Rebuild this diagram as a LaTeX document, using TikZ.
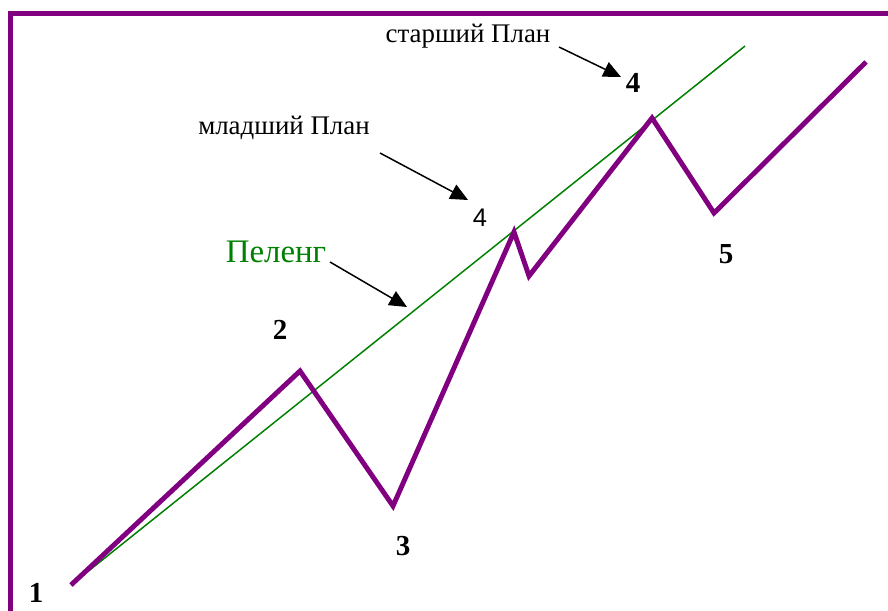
\documentclass[tikz,border=0pt]{standalone}
\usepackage{fontspec}
\setmainfont{Liberation Serif}
\newfontfamily\arialfont{Liberation Sans}
\usetikzlibrary{arrows.meta}
\definecolor{wavepurple}{HTML}{800080}
\definecolor{bearinggreen}{HTML}{008000}

\begin{document}
\begin{tikzpicture}[
  x=0.02cm,y=-0.02cm,
  frame/.style={draw=wavepurple,line width=2.8pt},
  wave/.style={draw=wavepurple,line width=2.8pt,line join=miter},
  bearing/.style={draw=bearinggreen,line width=0.85pt},
  num/.style={anchor=base,inner sep=0pt,font=\fontsize{16.5}{18}\selectfont\bfseries},
  lbl/.style={anchor=base,inner sep=0pt,font=\fontsize{15.3}{17}\selectfont},
  arr/.style={-{Triangle[length=10pt,width=9pt]},line width=0.85pt,draw=black}
]
\useasboundingbox (0,0) rectangle (888,611);
\draw[frame] (10.5,611) -- (10.5,13.5) -- (888,13.5);
% wave points
\coordinate (w1) at (71,585);
\coordinate (w2) at (300,371);
\coordinate (w3) at (393,506);
\coordinate (w4) at (514,232);
\coordinate (w4b) at (529,276);
\coordinate (w5) at (652,118);
\coordinate (w6) at (714,213);
\coordinate (w7) at (866,62);
\coordinate (g1) at (745,46);
\draw[bearing] (w1) -- (g1);
\draw[wave] (w1) -- (w2) -- (w3) -- (w4) -- (w4b) -- (w5) -- (w6) -- (w7);
% wave numbers
\node[num] (n1) at (36,602) {1};
\node[num] (n2) at (280,339) {2};
\node[num] (n3) at (403,555) {3};
\node[num] (n4) at (633,93) {4};
\node[num] (n5) at (726,263) {5};
\node[anchor=base,inner sep=0pt,font=\arialfont\fontsize{14.5}{16}\selectfont] (m4) at (480,226) {4};
% plan labels
\node[lbl] (senior) at (468,43) {старший План};
\node[lbl] (junior) at (284,135) {младший План};
\node[anchor=base,inner sep=0pt,font=\fontsize{18.7}{21}\selectfont,text=bearinggreen] (peleng) at (276,262) {Пеленг};
\coordinate (a1) at (559,47);
\coordinate (b1) at (621,77);
\coordinate (a2) at (380,153);
\coordinate (b2) at (468,200);
\coordinate (a3) at (330,262);
\coordinate (b3) at (407,307);
\foreach \a/\b in {a1/b1,a2/b2,a3/b3} \draw[arr] (\a)--(\b);
\end{tikzpicture}
\end{document}
